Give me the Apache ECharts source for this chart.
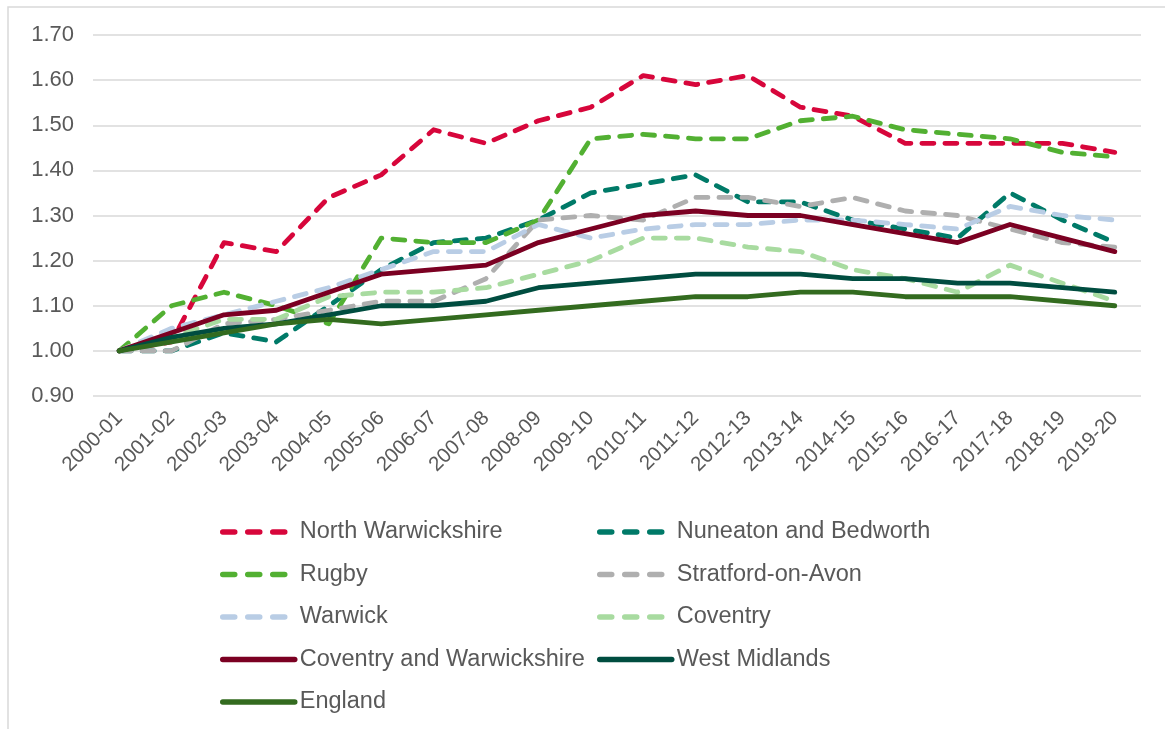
<!DOCTYPE html>
<html>
<head>
<meta charset="utf-8">
<script src="https://cdn.jsdelivr.net/npm/echarts@6/dist/echarts.min.js"></script>
<style>
html,body{margin:0;padding:0;background:#fff;}
#chart{width:1165px;height:729px;}
</style>
</head>
<body>
<div id="chart"></div>
<script>
const years = ['2000-01','2001-02','2002-03','2003-04','2004-05','2005-06','2006-07','2007-08','2008-09','2009-10','2010-11','2011-12','2012-13','2013-14','2014-15','2015-16','2016-17','2017-18','2018-19','2019-20'];

const northWarwickshire = [1.00,1.02,1.24,1.22,1.34,1.39,1.49,1.46,1.51,1.54,1.61,1.59,1.61,1.54,1.52,1.46,1.46,1.46,1.46,1.44];
const nuneatonBedworth  = [1.00,1.00,1.04,1.02,1.10,1.18,1.24,1.25,1.29,1.35,1.37,1.39,1.33,1.33,1.29,1.27,1.25,1.35,1.29,1.24];
const rugby             = [1.00,1.10,1.13,1.10,1.06,1.25,1.24,1.24,1.29,1.47,1.48,1.47,1.47,1.51,1.52,1.49,1.48,1.47,1.44,1.43];
const stratford         = [1.00,1.00,1.06,1.07,1.09,1.11,1.11,1.16,1.29,1.30,1.29,1.34,1.34,1.32,1.34,1.31,1.30,1.27,1.24,1.23];
const warwick           = [1.00,1.05,1.08,1.11,1.14,1.18,1.22,1.22,1.28,1.25,1.27,1.28,1.28,1.29,1.29,1.28,1.27,1.32,1.30,1.29];
const coventry          = [1.00,1.03,1.07,1.07,1.12,1.13,1.13,1.14,1.17,1.20,1.25,1.25,1.23,1.22,1.18,1.16,1.13,1.19,1.15,1.11];
const covWarks          = [1.00,1.04,1.08,1.09,1.13,1.17,1.18,1.19,1.24,1.27,1.30,1.31,1.30,1.30,1.28,1.26,1.24,1.28,1.25,1.22];
const westMidlands      = [1.00,1.03,1.05,1.06,1.08,1.10,1.10,1.11,1.14,1.15,1.16,1.17,1.17,1.17,1.16,1.16,1.15,1.15,1.14,1.13];
const england           = [1.00,1.02,1.04,1.06,1.07,1.06,1.07,1.08,1.09,1.10,1.11,1.12,1.12,1.13,1.13,1.12,1.12,1.12,1.11,1.10];

const yTicks = [0.9, 1.7, 0.1]; // min, max, step

const seriesDefs = [
  {name:'North Warwickshire', data:northWarwickshire, color:'#d7063b', dashed:true},
  {name:'Nuneaton and Bedworth', data:nuneatonBedworth, color:'#007a68', dashed:true},
  {name:'Rugby', data:rugby, color:'#52b032', dashed:true},
  {name:'Stratford-on-Avon', data:stratford, color:'#afafaf', dashed:true},
  {name:'Warwick', data:warwick, color:'#b9cde5', dashed:true},
  {name:'Coventry', data:coventry, color:'#a8dba0', dashed:true},
  {name:'Coventry and Warwickshire', data:covWarks, color:'#7b0022', dashed:false},
  {name:'West Midlands', data:westMidlands, color:'#004d40', dashed:false},
  {name:'England', data:england, color:'#336b1f', dashed:false}
];

const TXT = '#595959';
const FONT = '"Liberation Sans", Arial, sans-serif';

function legendItems(names){
  return names.map(n => {
    const d = seriesDefs.find(s => s.name === n);
    return {
      name: n,
      itemStyle: {opacity:0, borderWidth:0},
      lineStyle: d.dashed ? {type:[12,13], cap:'round', width:5.5, color:d.color, opacity:1} : {type:'solid', cap:'round', width:5.5, color:d.color, opacity:1}
    };
  });
}

const col1 = ['North Warwickshire','Rugby','Warwick','Coventry and Warwickshire','England'];
const col2 = ['Nuneaton and Bedworth','Stratford-on-Avon','Coventry','West Midlands'];

const legendBase = {
  orient:'vertical',
  padding:0,
  itemWidth:72,
  itemHeight:14,
  itemGap:18.5,
  selectedMode:false,
  textStyle:{color:TXT, fontSize:23.5, fontFamily:FONT, lineHeight:24},
  itemStyle:{opacity:0, borderWidth:0},
  lineStyle:{width:5.5, cap:'round', opacity:1}
};

const chart = echarts.init(document.getElementById('chart'), null, {renderer:'canvas'});
chart.setOption({
  animation:false,
  backgroundColor:'#ffffff',
  textStyle:{fontFamily:FONT},
  graphic:[{
    type:'rect',
    shape:{x:8, y:7, width:1300, height:900},
    style:{fill:'none', stroke:'#d9d9d9', lineWidth:1.5},
    silent:true
  }],
  grid:{left:93, right:24, top:35, bottom:333},
  legend:[
    Object.assign({}, legendBase, {left:220, top:520, data:legendItems(col1)}),
    Object.assign({}, legendBase, {left:597, top:520, data:legendItems(col2)})
  ],
  xAxis:{
    type:'category',
    data:years,
    boundaryGap:true,
    axisLine:{show:false},
    axisTick:{show:false},
    axisLabel:{rotate:45, margin:19, color:TXT, fontSize:20.5, fontFamily:FONT, interval:0}
  },
  yAxis:{
    type:'value',
    min:yTicks[0], max:yTicks[1], interval:yTicks[2],
    axisLine:{show:false},
    axisTick:{show:false},
    axisLabel:{margin:19, color:TXT, fontSize:22, fontFamily:FONT, formatter:v => v.toFixed(2)},
    splitLine:{lineStyle:{color:'#d9d9d9', width:1.5}}
  },
  series: seriesDefs.map(d => ({
    name:d.name,
    type:'line',
    data:d.data,
    symbol:'none',
    showSymbol:false,
    smooth:false,
    color:d.color,
    lineStyle:{color:d.color, width:4.8, type:d.dashed ? [12,11] : 'solid', cap:'round', join:'round'},
    emphasis:{disabled:true}
  }))
});
</script>
</body>
</html>
